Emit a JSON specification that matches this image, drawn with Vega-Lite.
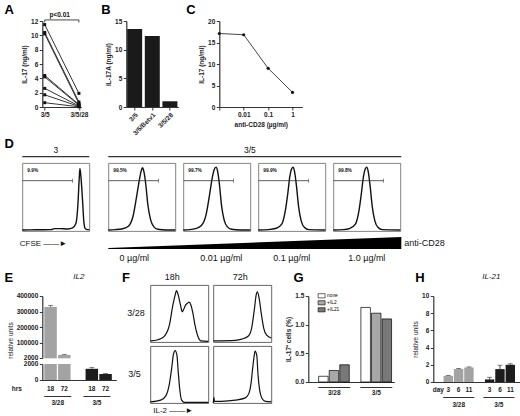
{
  "$schema": "https://vega.github.io/schema/vega-lite/v6.json",
  "padding": {"left": 3.3, "top": 3, "right": 0, "bottom": 0},
  "background": "white",
  "config": {
    "view": {"stroke": null},
    "axis": {
      "labelFont": "Liberation Sans", "labelFontSize": 6.5, "labelFontWeight": "bold", "labelColor": "#222",
      "titleFont": "Liberation Sans", "titleFontSize": 6.5, "titleFontWeight": "bold", "titleColor": "#222",
      "domainColor": "#333", "domainWidth": 1.2, "tickColor": "#333", "tickWidth": 1, "tickSize": 3,
      "labelPadding": 1.5, "titlePadding": 3, "grid": false, "labelFlush": false, "labelOverlap": false
    },
    "text": {"font": "Liberation Sans", "color": "#111"}
  },
  "datasets": {
    "a": [
      {"donor": 1, "cond": "3/5", "il17": 11.5}, {"donor": 1, "cond": "3/5/28", "il17": 1.9},
      {"donor": 2, "cond": "3/5", "il17": 10.4}, {"donor": 2, "cond": "3/5/28", "il17": 0.7},
      {"donor": 3, "cond": "3/5", "il17": 10.2}, {"donor": 3, "cond": "3/5/28", "il17": 0.5},
      {"donor": 4, "cond": "3/5", "il17": 4.4}, {"donor": 4, "cond": "3/5/28", "il17": 0.35},
      {"donor": 5, "cond": "3/5", "il17": 4.2}, {"donor": 5, "cond": "3/5/28", "il17": 0.25},
      {"donor": 6, "cond": "3/5", "il17": 2.6}, {"donor": 6, "cond": "3/5/28", "il17": 0.15},
      {"donor": 7, "cond": "3/5", "il17": 1.7}, {"donor": 7, "cond": "3/5/28", "il17": 0.08},
      {"donor": 8, "cond": "3/5", "il17": 0.6}, {"donor": 8, "cond": "3/5/28", "il17": 0.03}
    ],
    "aBracket": [
      {"cond": "3/5", "y": 11.8, "o": 1}, {"cond": "3/5", "y": 12.15, "o": 2},
      {"cond": "3/5/28", "y": 12.15, "o": 3}, {"cond": "3/5/28", "y": 11.8, "o": 4}
    ],
    "b": [
      {"cond": "3/5", "il17a": 13.6}, {"cond": "3/5/Betv1", "il17a": 12.4}, {"cond": "3/5/28", "il17a": 1.0}
    ],
    "c": [
      {"dose": "0", "il17": 17.1}, {"dose": "0.01", "il17": 16.8}, {"dose": "0.1", "il17": 9.0}, {"dose": "1", "il17": 3.4}
    ],
    "cfse": [
      {"panel": "3", "x": 0, "y": 0.015}, {"panel": "3", "x": 0.2, "y": 0.018}, {"panel": "3", "x": 0.43, "y": 0.02},
      {"panel": "3", "x": 0.48, "y": 0.035}, {"panel": "3", "x": 0.56, "y": 0.035}, {"panel": "3", "x": 0.68, "y": 0.03},
      {"panel": "3", "x": 0.75, "y": 0.045}, {"panel": "3", "x": 0.8, "y": 0.11}, {"panel": "3", "x": 0.83, "y": 0.39},
      {"panel": "3", "x": 0.85, "y": 0.78}, {"panel": "3", "x": 0.86, "y": 0.92}, {"panel": "3", "x": 0.875, "y": 0.8},
      {"panel": "3", "x": 0.9, "y": 0.44}, {"panel": "3", "x": 0.92, "y": 0.12}, {"panel": "3", "x": 0.94, "y": 0.035},
      {"panel": "3", "x": 0.97, "y": 0.02}, {"panel": "3", "x": 1, "y": 0.02},
      {"panel": "0", "x": 0, "y": 0.015}, {"panel": "0", "x": 0.1, "y": 0.02}, {"panel": "0", "x": 0.2, "y": 0.03},
      {"panel": "0", "x": 0.3, "y": 0.07}, {"panel": "0", "x": 0.37, "y": 0.22}, {"panel": "0", "x": 0.42, "y": 0.49},
      {"panel": "0", "x": 0.46, "y": 0.73}, {"panel": "0", "x": 0.49, "y": 0.88}, {"panel": "0", "x": 0.51, "y": 0.93},
      {"panel": "0", "x": 0.53, "y": 0.88}, {"panel": "0", "x": 0.56, "y": 0.68}, {"panel": "0", "x": 0.59, "y": 0.39},
      {"panel": "0", "x": 0.63, "y": 0.17}, {"panel": "0", "x": 0.68, "y": 0.06}, {"panel": "0", "x": 0.74, "y": 0.025},
      {"panel": "0", "x": 0.86, "y": 0.015}, {"panel": "0", "x": 1, "y": 0.015},
      {"panel": "0.01", "x": 0, "y": 0.015}, {"panel": "0.01", "x": 0.1, "y": 0.02}, {"panel": "0.01", "x": 0.18, "y": 0.035},
      {"panel": "0.01", "x": 0.27, "y": 0.08}, {"panel": "0.01", "x": 0.34, "y": 0.24}, {"panel": "0.01", "x": 0.39, "y": 0.52},
      {"panel": "0.01", "x": 0.43, "y": 0.77}, {"panel": "0.01", "x": 0.46, "y": 0.9}, {"panel": "0.01", "x": 0.49, "y": 0.94},
      {"panel": "0.01", "x": 0.51, "y": 0.89}, {"panel": "0.01", "x": 0.54, "y": 0.68}, {"panel": "0.01", "x": 0.57, "y": 0.38},
      {"panel": "0.01", "x": 0.61, "y": 0.16}, {"panel": "0.01", "x": 0.66, "y": 0.06}, {"panel": "0.01", "x": 0.72, "y": 0.025},
      {"panel": "0.01", "x": 0.85, "y": 0.015}, {"panel": "0.01", "x": 1, "y": 0.015},
      {"panel": "0.1", "x": 0, "y": 0.015}, {"panel": "0.1", "x": 0.15, "y": 0.02}, {"panel": "0.1", "x": 0.27, "y": 0.04},
      {"panel": "0.1", "x": 0.35, "y": 0.1}, {"panel": "0.1", "x": 0.4, "y": 0.28}, {"panel": "0.1", "x": 0.44, "y": 0.55},
      {"panel": "0.1", "x": 0.47, "y": 0.8}, {"panel": "0.1", "x": 0.5, "y": 0.92}, {"panel": "0.1", "x": 0.52, "y": 0.94},
      {"panel": "0.1", "x": 0.54, "y": 0.88}, {"panel": "0.1", "x": 0.57, "y": 0.66}, {"panel": "0.1", "x": 0.6, "y": 0.37},
      {"panel": "0.1", "x": 0.64, "y": 0.15}, {"panel": "0.1", "x": 0.69, "y": 0.05}, {"panel": "0.1", "x": 0.75, "y": 0.02},
      {"panel": "0.1", "x": 1, "y": 0.015},
      {"panel": "1.0", "x": 0, "y": 0.015}, {"panel": "1.0", "x": 0.15, "y": 0.02}, {"panel": "1.0", "x": 0.25, "y": 0.04},
      {"panel": "1.0", "x": 0.33, "y": 0.1}, {"panel": "1.0", "x": 0.38, "y": 0.28}, {"panel": "1.0", "x": 0.42, "y": 0.56},
      {"panel": "1.0", "x": 0.45, "y": 0.8}, {"panel": "1.0", "x": 0.48, "y": 0.92}, {"panel": "1.0", "x": 0.5, "y": 0.94},
      {"panel": "1.0", "x": 0.52, "y": 0.88}, {"panel": "1.0", "x": 0.55, "y": 0.66}, {"panel": "1.0", "x": 0.58, "y": 0.37},
      {"panel": "1.0", "x": 0.62, "y": 0.15}, {"panel": "1.0", "x": 0.67, "y": 0.05}, {"panel": "1.0", "x": 0.73, "y": 0.02},
      {"panel": "1.0", "x": 1, "y": 0.015}
    ],
    "gates": [
      {"panel": "3", "pct": "9.9%", "lo": 0.005, "hi": 0.75, "lvl": 0.74},
      {"panel": "0", "pct": "99.5%", "lo": 0.005, "hi": 0.75, "lvl": 0.74},
      {"panel": "0.01", "pct": "99.7%", "lo": 0.005, "hi": 0.75, "lvl": 0.74},
      {"panel": "0.1", "pct": "99.9%", "lo": 0.005, "hi": 0.75, "lvl": 0.74},
      {"panel": "1.0", "pct": "99.8%", "lo": 0.005, "hi": 0.75, "lvl": 0.74}
    ],
    "wedge": [{"x": 0, "y": 0.08}, {"x": 1, "y": 1}],
    "il2": [
      {"panel": "3/28 18h", "x": 0, "y": 0.02}, {"panel": "3/28 18h", "x": 0.13, "y": 0.04}, {"panel": "3/28 18h", "x": 0.24, "y": 0.1},
      {"panel": "3/28 18h", "x": 0.33, "y": 0.3}, {"panel": "3/28 18h", "x": 0.39, "y": 0.65}, {"panel": "3/28 18h", "x": 0.43, "y": 0.83},
      {"panel": "3/28 18h", "x": 0.45, "y": 0.9}, {"panel": "3/28 18h", "x": 0.48, "y": 0.83}, {"panel": "3/28 18h", "x": 0.52, "y": 0.65},
      {"panel": "3/28 18h", "x": 0.55, "y": 0.53}, {"panel": "3/28 18h", "x": 0.57, "y": 0.56}, {"panel": "3/28 18h", "x": 0.61, "y": 0.65},
      {"panel": "3/28 18h", "x": 0.64, "y": 0.68}, {"panel": "3/28 18h", "x": 0.67, "y": 0.7}, {"panel": "3/28 18h", "x": 0.7, "y": 0.65},
      {"panel": "3/28 18h", "x": 0.73, "y": 0.53}, {"panel": "3/28 18h", "x": 0.77, "y": 0.3}, {"panel": "3/28 18h", "x": 0.82, "y": 0.1},
      {"panel": "3/28 18h", "x": 0.87, "y": 0.02}, {"panel": "3/28 18h", "x": 1, "y": 0.01},
      {"panel": "3/28 72h", "x": 0, "y": 0.02}, {"panel": "3/28 72h", "x": 0.38, "y": 0.03}, {"panel": "3/28 72h", "x": 0.49, "y": 0.05},
      {"panel": "3/28 72h", "x": 0.6, "y": 0.1}, {"panel": "3/28 72h", "x": 0.66, "y": 0.24}, {"panel": "3/28 72h", "x": 0.71, "y": 0.59},
      {"panel": "3/28 72h", "x": 0.74, "y": 0.83}, {"panel": "3/28 72h", "x": 0.76, "y": 0.88}, {"panel": "3/28 72h", "x": 0.79, "y": 0.77},
      {"panel": "3/28 72h", "x": 0.83, "y": 0.48}, {"panel": "3/28 72h", "x": 0.87, "y": 0.24}, {"panel": "3/28 72h", "x": 0.92, "y": 0.12},
      {"panel": "3/28 72h", "x": 1, "y": 0.07},
      {"panel": "3/5 18h", "x": 0, "y": 0.02}, {"panel": "3/5 18h", "x": 0.18, "y": 0.05}, {"panel": "3/5 18h", "x": 0.27, "y": 0.13},
      {"panel": "3/5 18h", "x": 0.33, "y": 0.34}, {"panel": "3/5 18h", "x": 0.37, "y": 0.62}, {"panel": "3/5 18h", "x": 0.4, "y": 0.86},
      {"panel": "3/5 18h", "x": 0.43, "y": 0.92}, {"panel": "3/5 18h", "x": 0.46, "y": 0.83}, {"panel": "3/5 18h", "x": 0.48, "y": 0.57},
      {"panel": "3/5 18h", "x": 0.51, "y": 0.22}, {"panel": "3/5 18h", "x": 0.54, "y": 0.05}, {"panel": "3/5 18h", "x": 0.59, "y": 0.01},
      {"panel": "3/5 18h", "x": 1, "y": 0.01},
      {"panel": "3/5 72h", "x": 0, "y": 0.0}, {"panel": "3/5 72h", "x": 0.01, "y": 0.1}, {"panel": "3/5 72h", "x": 0.02, "y": 0.03},
      {"panel": "3/5 72h", "x": 0.14, "y": 0.03}, {"panel": "3/5 72h", "x": 0.38, "y": 0.05}, {"panel": "3/5 72h", "x": 0.55, "y": 0.09},
      {"panel": "3/5 72h", "x": 0.61, "y": 0.16}, {"panel": "3/5 72h", "x": 0.65, "y": 0.34}, {"panel": "3/5 72h", "x": 0.68, "y": 0.62},
      {"panel": "3/5 72h", "x": 0.71, "y": 0.86}, {"panel": "3/5 72h", "x": 0.72, "y": 0.91}, {"panel": "3/5 72h", "x": 0.75, "y": 0.83},
      {"panel": "3/5 72h", "x": 0.77, "y": 0.51}, {"panel": "3/5 72h", "x": 0.8, "y": 0.22}, {"panel": "3/5 72h", "x": 0.84, "y": 0.08},
      {"panel": "3/5 72h", "x": 0.9, "y": 0.03}, {"panel": "3/5 72h", "x": 1, "y": 0.02}
    ],
    "e": [
      {"bar": "3/28 18", "grp": "3/28", "hrs": "18", "val": 330000, "hi": 340000},
      {"bar": "3/28 72", "grp": "3/28", "hrs": "72", "val": 22000, "hi": 25000},
      {"bar": "3/5 18", "grp": "3/5", "hrs": "18", "val": 1400, "hi": 1580},
      {"bar": "3/5 72", "grp": "3/5", "hrs": "72", "val": 750, "hi": 820}
    ],
    "g": [
      {"bar": "3/28 none", "grp": "3/28", "trt": "none", "pct": 0.1}, {"bar": "3/28 +IL2", "grp": "3/28", "trt": "+IL2", "pct": 0.2},
      {"bar": "3/28 +IL21", "grp": "3/28", "trt": "+IL21", "pct": 0.3}, {"bar": "3/5 none", "grp": "3/5", "trt": "none", "pct": 1.3},
      {"bar": "3/5 +IL2", "grp": "3/5", "trt": "+IL2", "pct": 1.2}, {"bar": "3/5 +IL21", "grp": "3/5", "trt": "+IL21", "pct": 1.1}
    ],
    "h": [
      {"bar": "3/28 3", "grp": "3/28", "day": "3", "val": 0.7, "hi": 0.75}, {"bar": "3/28 6", "grp": "3/28", "day": "6", "val": 1.5, "hi": 1.56},
      {"bar": "3/28 11", "grp": "3/28", "day": "11", "val": 1.7, "hi": 1.75}, {"bar": "3/5 3", "grp": "3/5", "day": "3", "val": 0.3, "hi": 0.55},
      {"bar": "3/5 6", "grp": "3/5", "day": "6", "val": 1.5, "hi": 1.95}, {"bar": "3/5 11", "grp": "3/5", "day": "11", "val": 2.0, "hi": 2.12}
    ],
    "groups": [{"grp": "3/28"}, {"grp": "3/5"}]
  },
  "vconcat": [
    {
      "hconcat": [
        {"width": 20, "height": 1, "data": {"values": [{}]}, "mark": {"type": "text", "text": ""}},
        {
          "width": 39, "height": 86,
          "layer": [
            {"data": {"name": "a"}, "mark": {"type": "line", "color": "#333", "strokeWidth": 1},
             "encoding": {
               "x": {"field": "cond", "type": "nominal", "scale": {"type": "point", "domain": ["3/5", "3/5/28"], "padding": 0.07}, "axis": {"title": null, "labelAngle": 0}},
               "y": {"field": "il17", "type": "quantitative", "scale": {"domain": [0, 12], "nice": false}, "axis": {"values": [0, 2, 4, 6, 8, 10, 12], "tickCount": 10, "title": "IL-17 (ng/ml)"}},
               "detail": {"field": "donor", "type": "nominal"}}},
            {"data": {"name": "a"}, "mark": {"type": "point", "shape": "square", "filled": true, "size": 9, "color": "#111", "opacity": 1},
             "encoding": {"x": {"field": "cond", "type": "nominal"}, "y": {"field": "il17", "type": "quantitative"}}},
            {"data": {"name": "aBracket"}, "mark": {"type": "line", "color": "#333", "strokeWidth": 0.9},
             "encoding": {"x": {"field": "cond", "type": "nominal"}, "y": {"field": "y", "type": "quantitative"}, "order": {"field": "o", "type": "quantitative"}}},
            {"data": {"values": [{}]}, "mark": {"type": "text", "text": "p<0.01", "fontSize": 6.5, "fontWeight": "bold", "baseline": "middle", "dx": 15},
             "encoding": {"x": {"datum": "3/5", "type": "nominal"}, "y": {"datum": 12.85, "type": "quantitative"}}},
            {"data": {"values": [{}]}, "mark": {"type": "text", "text": "A", "fontSize": 13, "fontWeight": "bold", "align": "left", "baseline": "middle", "color": "#000", "dx": -57.2, "dy": -54.5}}
          ]
        },
        {"width": 45, "height": 1, "data": {"values": [{}]}, "mark": {"type": "text", "text": ""}},
        {
          "width": 52, "height": 86,
          "layer": [
            {"data": {"name": "b"}, "mark": {"type": "bar", "color": "#1a1a1a"},
             "encoding": {
               "x": {"field": "cond", "type": "nominal", "sort": null, "scale": {"paddingInner": 0.15, "paddingOuter": 0.05}, "axis": {"title": null, "labelAngle": -45}},
               "y": {"field": "il17a", "type": "quantitative", "scale": {"domain": [0, 15], "nice": false}, "axis": {"values": [0, 5, 10, 15], "tickCount": 10, "title": "IL-17A (ng/ml)"}}}},
            {"data": {"values": [{}]}, "mark": {"type": "text", "text": "B", "fontSize": 13, "fontWeight": "bold", "align": "left", "baseline": "middle", "color": "#000", "dx": -51, "dy": -54.5}}
          ]
        },
        {"width": 41, "height": 1, "data": {"values": [{}]}, "mark": {"type": "text", "text": ""}},
        {
          "width": 83, "height": 86,
          "layer": [
            {"data": {"name": "c"}, "mark": {"type": "line", "color": "#444", "strokeWidth": 1},
             "encoding": {
               "x": {"field": "dose", "type": "nominal", "sort": null, "scale": {"type": "point", "domain": ["0", "0.01", "0.1", "1"], "padding": 0.2, "align": 0},
                     "axis": {"title": "anti-CD28 (µg/ml)", "labelAngle": 0, "labelExpr": "datum.value == '0' ? '' : datum.label"}},
               "y": {"field": "il17", "type": "quantitative", "scale": {"domain": [0, 20], "nice": false}, "axis": {"values": [0, 5, 10, 15, 20], "tickCount": 10, "title": "IL-17 (ng/ml)"}}}},
            {"data": {"name": "c"}, "mark": {"type": "point", "filled": true, "size": 10, "color": "#111", "opacity": 1},
             "encoding": {"x": {"field": "dose", "type": "nominal", "sort": null}, "y": {"field": "il17", "type": "quantitative"}}},
            {"data": {"values": [{}]}, "mark": {"type": "text", "text": "C", "fontSize": 13, "fontWeight": "bold", "align": "left", "baseline": "middle", "color": "#000", "dx": -74.5, "dy": -54.5}}
          ]
        }
      ],
      "spacing": 0, "bounds": "flush"
    },
    {"width": 1, "height": 134.3, "data": {"values": [{}]}, "mark": {"type": "text", "text": ""}},
    {
      "hconcat": [
        {"width": 67, "height": 1.2,
         "layer": [
           {"data": {"values": [{}]}, "mark": {"type": "rect", "color": "#333"},
            "encoding": {"x": {"datum": 0, "type": "quantitative", "scale": {"domain": [0, 1]}, "axis": null}, "x2": {"datum": 1},
                         "y": {"datum": 0, "type": "quantitative", "scale": {"domain": [0, 1]}, "axis": null}, "y2": {"datum": 1}}},
           {"data": {"values": [{}]}, "mark": {"type": "text", "text": "3", "fontSize": 8.5, "baseline": "middle", "dy": -7}}
         ]},
        {"width": 19, "height": 1, "data": {"values": [{}]}, "mark": {"type": "text", "text": ""}},
        {"width": 293, "height": 1.2,
         "layer": [
           {"data": {"values": [{}]}, "mark": {"type": "rect", "color": "#333"},
            "encoding": {"x": {"datum": 0, "type": "quantitative", "scale": {"domain": [0, 1]}, "axis": null}, "x2": {"datum": 1},
                         "y": {"datum": 0, "type": "quantitative", "scale": {"domain": [0, 1]}, "axis": null}, "y2": {"datum": 1}}},
           {"data": {"values": [{}]}, "mark": {"type": "text", "text": "3/5", "fontSize": 8.5, "baseline": "middle", "dx": -5, "dy": -7}}
         ]}
      ],
      "spacing": 0, "bounds": "flush"
    },
    {"width": 1, "height": 6.7, "data": {"values": [{}]}, "mark": {"type": "text", "text": ""}},
    {
      "hconcat": [
        {"width": 67, "height": 68, "view": {"stroke": "#777", "strokeWidth": 0.9},
         "layer": [
           {"data": {"name": "cfse"}, "transform": [{"filter": "datum.panel == '3'"}], "mark": {"type": "line", "color": "#111", "strokeWidth": 1.4, "interpolate": "monotone"},
            "encoding": {"x": {"field": "x", "type": "quantitative", "scale": {"domain": [0, 1], "nice": false}, "axis": null},
                         "y": {"field": "y", "type": "quantitative", "scale": {"domain": [0, 1], "nice": false}, "axis": null}}},
           {"data": {"name": "gates"}, "transform": [{"filter": "datum.panel == '3'"}], "mark": {"type": "rule", "color": "#333", "strokeWidth": 0.8},
            "encoding": {"x": {"field": "lo", "type": "quantitative"}, "x2": {"field": "hi"}, "y": {"field": "lvl", "type": "quantitative"}}},
           {"data": {"name": "gates"}, "transform": [{"filter": "datum.panel == '3'"}], "mark": {"type": "tick", "orient": "vertical", "size": 4, "thickness": 0.8, "color": "#333"},
            "encoding": {"x": {"field": "hi", "type": "quantitative"}, "y": {"field": "lvl", "type": "quantitative"}}},
           {"data": {"name": "gates"}, "transform": [{"filter": "datum.panel == '3'"}], "mark": {"type": "text", "align": "left", "baseline": "middle", "fontSize": 4.8, "fontWeight": "bold", "dx": 5},
            "encoding": {"x": {"datum": 0, "type": "quantitative"}, "y": {"datum": 0.88, "type": "quantitative"}, "text": {"field": "pct"}}},
           {"data": {"values": [{}]}, "mark": {"type": "text", "text": "D", "fontSize": 13, "fontWeight": "bold", "align": "left", "baseline": "middle", "color": "#000", "dx": -51.2, "dy": -52.7}}
         ]},
        {"width": 19, "height": 1, "data": {"values": [{}]}, "mark": {"type": "text", "text": ""}},
        {"width": 67, "height": 68, "view": {"stroke": "#777", "strokeWidth": 0.9},
         "layer": [
           {"data": {"name": "cfse"}, "transform": [{"filter": "datum.panel == '0'"}], "mark": {"type": "line", "color": "#111", "strokeWidth": 1.4, "interpolate": "monotone"},
            "encoding": {"x": {"field": "x", "type": "quantitative", "scale": {"domain": [0, 1], "nice": false}, "axis": null},
                         "y": {"field": "y", "type": "quantitative", "scale": {"domain": [0, 1], "nice": false}, "axis": null}}},
           {"data": {"name": "gates"}, "transform": [{"filter": "datum.panel == '0'"}], "mark": {"type": "rule", "color": "#333", "strokeWidth": 0.8},
            "encoding": {"x": {"field": "lo", "type": "quantitative"}, "x2": {"field": "hi"}, "y": {"field": "lvl", "type": "quantitative"}}},
           {"data": {"name": "gates"}, "transform": [{"filter": "datum.panel == '0'"}], "mark": {"type": "tick", "orient": "vertical", "size": 4, "thickness": 0.8, "color": "#333"},
            "encoding": {"x": {"field": "hi", "type": "quantitative"}, "y": {"field": "lvl", "type": "quantitative"}}},
           {"data": {"name": "gates"}, "transform": [{"filter": "datum.panel == '0'"}], "mark": {"type": "text", "align": "left", "baseline": "middle", "fontSize": 4.8, "fontWeight": "bold", "dx": 5},
            "encoding": {"x": {"datum": 0, "type": "quantitative"}, "y": {"datum": 0.88, "type": "quantitative"}, "text": {"field": "pct"}}},
           {"data": {"values": [{}]}, "mark": {"type": "text", "text": "0 µg/ml", "fontSize": 9, "baseline": "middle", "dx": -7.5, "dy": 61}}
         ]},
        {"width": 8, "height": 1, "data": {"values": [{}]}, "mark": {"type": "text", "text": ""}},
        {"width": 67, "height": 68, "view": {"stroke": "#777", "strokeWidth": 0.9},
         "layer": [
           {"data": {"name": "cfse"}, "transform": [{"filter": "datum.panel == '0.01'"}], "mark": {"type": "line", "color": "#111", "strokeWidth": 1.4, "interpolate": "monotone"},
            "encoding": {"x": {"field": "x", "type": "quantitative", "scale": {"domain": [0, 1], "nice": false}, "axis": null},
                         "y": {"field": "y", "type": "quantitative", "scale": {"domain": [0, 1], "nice": false}, "axis": null}}},
           {"data": {"name": "gates"}, "transform": [{"filter": "datum.panel == '0.01'"}], "mark": {"type": "rule", "color": "#333", "strokeWidth": 0.8},
            "encoding": {"x": {"field": "lo", "type": "quantitative"}, "x2": {"field": "hi"}, "y": {"field": "lvl", "type": "quantitative"}}},
           {"data": {"name": "gates"}, "transform": [{"filter": "datum.panel == '0.01'"}], "mark": {"type": "tick", "orient": "vertical", "size": 4, "thickness": 0.8, "color": "#333"},
            "encoding": {"x": {"field": "hi", "type": "quantitative"}, "y": {"field": "lvl", "type": "quantitative"}}},
           {"data": {"name": "gates"}, "transform": [{"filter": "datum.panel == '0.01'"}], "mark": {"type": "text", "align": "left", "baseline": "middle", "fontSize": 4.8, "fontWeight": "bold", "dx": 5},
            "encoding": {"x": {"datum": 0, "type": "quantitative"}, "y": {"datum": 0.88, "type": "quantitative"}, "text": {"field": "pct"}}},
           {"data": {"values": [{}]}, "mark": {"type": "text", "text": "0.01 µg/ml", "fontSize": 9, "baseline": "middle", "dx": 4.5, "dy": 61}}
         ]},
        {"width": 8, "height": 1, "data": {"values": [{}]}, "mark": {"type": "text", "text": ""}},
        {"width": 67, "height": 68, "view": {"stroke": "#777", "strokeWidth": 0.9},
         "layer": [
           {"data": {"name": "cfse"}, "transform": [{"filter": "datum.panel == '0.1'"}], "mark": {"type": "line", "color": "#111", "strokeWidth": 1.4, "interpolate": "monotone"},
            "encoding": {"x": {"field": "x", "type": "quantitative", "scale": {"domain": [0, 1], "nice": false}, "axis": null},
                         "y": {"field": "y", "type": "quantitative", "scale": {"domain": [0, 1], "nice": false}, "axis": null}}},
           {"data": {"name": "gates"}, "transform": [{"filter": "datum.panel == '0.1'"}], "mark": {"type": "rule", "color": "#333", "strokeWidth": 0.8},
            "encoding": {"x": {"field": "lo", "type": "quantitative"}, "x2": {"field": "hi"}, "y": {"field": "lvl", "type": "quantitative"}}},
           {"data": {"name": "gates"}, "transform": [{"filter": "datum.panel == '0.1'"}], "mark": {"type": "tick", "orient": "vertical", "size": 4, "thickness": 0.8, "color": "#333"},
            "encoding": {"x": {"field": "hi", "type": "quantitative"}, "y": {"field": "lvl", "type": "quantitative"}}},
           {"data": {"name": "gates"}, "transform": [{"filter": "datum.panel == '0.1'"}], "mark": {"type": "text", "align": "left", "baseline": "middle", "fontSize": 4.8, "fontWeight": "bold", "dx": 5},
            "encoding": {"x": {"datum": 0, "type": "quantitative"}, "y": {"datum": 0.88, "type": "quantitative"}, "text": {"field": "pct"}}},
           {"data": {"values": [{}]}, "mark": {"type": "text", "text": "0.1 µg/ml", "fontSize": 9, "baseline": "middle", "dx": 0, "dy": 61}}
         ]},
        {"width": 8, "height": 1, "data": {"values": [{}]}, "mark": {"type": "text", "text": ""}},
        {"width": 67, "height": 68, "view": {"stroke": "#777", "strokeWidth": 0.9},
         "layer": [
           {"data": {"name": "cfse"}, "transform": [{"filter": "datum.panel == '1.0'"}], "mark": {"type": "line", "color": "#111", "strokeWidth": 1.4, "interpolate": "monotone"},
            "encoding": {"x": {"field": "x", "type": "quantitative", "scale": {"domain": [0, 1], "nice": false}, "axis": null},
                         "y": {"field": "y", "type": "quantitative", "scale": {"domain": [0, 1], "nice": false}, "axis": null}}},
           {"data": {"name": "gates"}, "transform": [{"filter": "datum.panel == '1.0'"}], "mark": {"type": "rule", "color": "#333", "strokeWidth": 0.8},
            "encoding": {"x": {"field": "lo", "type": "quantitative"}, "x2": {"field": "hi"}, "y": {"field": "lvl", "type": "quantitative"}}},
           {"data": {"name": "gates"}, "transform": [{"filter": "datum.panel == '1.0'"}], "mark": {"type": "tick", "orient": "vertical", "size": 4, "thickness": 0.8, "color": "#333"},
            "encoding": {"x": {"field": "hi", "type": "quantitative"}, "y": {"field": "lvl", "type": "quantitative"}}},
           {"data": {"name": "gates"}, "transform": [{"filter": "datum.panel == '1.0'"}], "mark": {"type": "text", "align": "left", "baseline": "middle", "fontSize": 4.8, "fontWeight": "bold", "dx": 5},
            "encoding": {"x": {"datum": 0, "type": "quantitative"}, "y": {"datum": 0.88, "type": "quantitative"}, "text": {"field": "pct"}}},
           {"data": {"values": [{}]}, "mark": {"type": "text", "text": "1.0 µg/ml", "fontSize": 9, "baseline": "middle", "dx": 0, "dy": 61}}
         ]}
      ],
      "spacing": 0, "bounds": "flush"
    },
    {"width": 1, "height": 73.5, "data": {"values": [{}]}, "mark": {"type": "text", "text": ""}},
    {
      "hconcat": [
        {"width": 67, "height": 12, "data": {"values": [{}]}, "mark": {"type": "text", "text": "CFSE ——►", "fontSize": 8, "align": "left", "baseline": "middle", "dx": -36, "dy": 1.5}},
        {"width": 19, "height": 1, "data": {"values": [{}]}, "mark": {"type": "text", "text": ""}},
        {"width": 293, "height": 12,
         "layer": [
           {"data": {"name": "wedge"}, "mark": {"type": "area", "color": "#000"},
            "encoding": {"x": {"field": "x", "type": "quantitative", "scale": {"domain": [0, 1], "nice": false}, "axis": null},
                         "y": {"field": "y", "type": "quantitative", "scale": {"domain": [0, 1], "nice": false}, "axis": null}}},
           {"data": {"values": [{}]}, "mark": {"type": "text", "text": "anti-CD28", "fontSize": 9, "align": "left", "baseline": "middle", "dx": 3},
            "encoding": {"x": {"datum": 1, "type": "quantitative"}, "y": {"datum": 0.5, "type": "quantitative"}}}
         ]}
      ],
      "spacing": 0, "bounds": "flush"
    },
    {"width": 1, "height": 47.5, "data": {"values": [{}]}, "mark": {"type": "text", "text": ""}},
    {
      "hconcat": [
        {"width": 20, "height": 1, "data": {"values": [{}]}, "mark": {"type": "text", "text": ""}},
        {
          "vconcat": [
            {"width": 74, "height": 1,
             "layer": [
               {"data": {"values": [{}]}, "mark": {"type": "text", "text": "E", "fontSize": 13, "fontWeight": "bold", "align": "left", "baseline": "middle", "color": "#000", "dx": -74.7, "dy": -7.5}},
               {"data": {"values": [{}]}, "mark": {"type": "text", "text": "IL2", "fontSize": 8, "fontStyle": "italic", "baseline": "middle", "dx": -0.5, "dy": -8}}
             ]},
            {"width": 74, "height": 10, "data": {"values": [{}]}, "mark": {"type": "text", "text": ""}},
            {"width": 74, "height": 62, "data": {"name": "e"}, "transform": [{"filter": "datum.val > 2000"}],
             "encoding": {
               "x": {"field": "bar", "type": "nominal", "scale": {"domain": ["3/28 18", "3/28 72", "gap", "3/5 18", "3/5 72"], "paddingInner": 0.09, "paddingOuter": 0.236, "align": 0.31}, "axis": null}},
             "layer": [
               {"mark": {"type": "bar"},
                "encoding": {
                  "y": {"field": "val", "type": "quantitative", "scale": {"domain": [2000, 400000], "nice": false, "zero": false},
                        "axis": {"values": [2000, 100000, 200000, 300000, 400000], "tickCount": 10, "format": "d", "title": "relative units", "titleFontWeight": "normal", "titleY": 44}},
                  "color": {"field": "grp", "type": "nominal", "scale": {"domain": ["3/28", "3/5"], "range": ["#a3a3a3", "#1c1c1c"]}, "legend": null}}},
               {"mark": {"type": "rule", "color": "#333", "strokeWidth": 0.8}, "encoding": {"y": {"field": "val", "type": "quantitative"}, "y2": {"field": "hi"}}},
               {"mark": {"type": "tick", "orient": "horizontal", "size": 5, "thickness": 0.8, "color": "#333"}, "encoding": {"y": {"field": "hi", "type": "quantitative"}}}
             ]},
            {"width": 74, "height": 6, "data": {"values": [{}]}, "mark": {"type": "text", "text": ""}},
            {"width": 74, "height": 16, "data": {"name": "e"},
             "encoding": {
               "x": {"field": "bar", "type": "nominal", "scale": {"domain": ["3/28 18", "3/28 72", "gap", "3/5 18", "3/5 72"], "paddingInner": 0.09, "paddingOuter": 0.236, "align": 0.31},
                     "axis": {"ticks": false, "labelAngle": 0, "labelPadding": 5.5, "labelExpr": "datum.value == 'gap' ? '' : split(datum.value, ' ')[1]",
                              "title": "hrs", "titleX": -26, "titleY": 9, "titleAngle": 0, "titleAlign": "center", "titleBaseline": "middle"}}},
             "layer": [
               {"mark": {"type": "bar"},
                "encoding": {
                  "y": {"field": "val", "type": "quantitative", "scale": {"domain": [0, 2000], "nice": false, "clamp": true}, "axis": {"values": [0, 2000], "tickCount": 10, "format": "d", "title": null}},
                  "color": {"field": "grp", "type": "nominal", "scale": {"domain": ["3/28", "3/5"], "range": ["#a3a3a3", "#1c1c1c"]}, "legend": null}}},
               {"transform": [{"filter": "datum.grp == '3/5'"}], "mark": {"type": "rule", "color": "#333", "strokeWidth": 0.8}, "encoding": {"y": {"field": "val", "type": "quantitative"}, "y2": {"field": "hi"}}},
               {"transform": [{"filter": "datum.grp == '3/5'"}], "mark": {"type": "tick", "orient": "horizontal", "size": 5, "thickness": 0.8, "color": "#333"}, "encoding": {"y": {"field": "hi", "type": "quantitative"}}}
             ]},
            {"width": 74, "height": 16, "data": {"values": [{}]}, "mark": {"type": "text", "text": ""}},
            {"width": 74, "height": 1, "data": {"name": "groups"}, "mark": {"type": "rect", "color": "#333"},
             "encoding": {
               "x": {"field": "grp", "type": "nominal", "scale": {"domain": ["3/28", "3/5"], "paddingInner": 0.31, "paddingOuter": 0.1, "align": 0.25},
                     "axis": {"domain": false, "ticks": false, "title": null, "labelAngle": 0, "labelPadding": 2.5}},
               "y": {"datum": 0, "type": "quantitative", "scale": {"domain": [0, 1]}, "axis": null}, "y2": {"datum": 1}}}
          ],
          "spacing": 0, "bounds": "flush"
        },
        {"width": 108, "height": 1, "data": {"values": [{}]}, "mark": {"type": "text", "text": ""}},
        {
          "concat": [
            {"width": 58, "height": 57, "view": {"stroke": "#555", "strokeWidth": 0.9},
             "layer": [
               {"data": {"name": "il2"}, "transform": [{"filter": "datum.panel == '3/28 18h'"}], "mark": {"type": "line", "color": "#111", "strokeWidth": 1.2, "interpolate": "monotone"},
                "encoding": {"x": {"field": "x", "type": "quantitative", "scale": {"domain": [0, 1], "nice": false}, "axis": null},
                             "y": {"field": "y", "type": "quantitative", "scale": {"domain": [0, 1], "nice": false}, "axis": null}}},
               {"data": {"values": [{}]}, "mark": {"type": "text", "text": "F", "fontSize": 13, "fontWeight": "bold", "align": "left", "baseline": "middle", "color": "#000", "dx": -57.3, "dy": -35.5}},
               {"data": {"values": [{}]}, "mark": {"type": "text", "text": "18h", "fontSize": 9, "baseline": "middle", "dx": -7, "dy": -36.5}},
               {"data": {"values": [{}]}, "mark": {"type": "text", "text": "3/28", "fontSize": 9, "align": "left", "baseline": "middle", "dx": -52}}
             ]},
            {"width": 58, "height": 57, "view": {"stroke": "#555", "strokeWidth": 0.9},
             "layer": [
               {"data": {"name": "il2"}, "transform": [{"filter": "datum.panel == '3/28 72h'"}], "mark": {"type": "line", "color": "#111", "strokeWidth": 1.2, "interpolate": "monotone"},
                "encoding": {"x": {"field": "x", "type": "quantitative", "scale": {"domain": [0, 1], "nice": false}, "axis": null},
                             "y": {"field": "y", "type": "quantitative", "scale": {"domain": [0, 1], "nice": false}, "axis": null}}},
               {"data": {"values": [{}]}, "mark": {"type": "text", "text": "72h", "fontSize": 9, "baseline": "middle", "dx": -2, "dy": -36.5}}
             ]},
            {"width": 58, "height": 57, "view": {"stroke": "#555", "strokeWidth": 0.9},
             "layer": [
               {"data": {"name": "il2"}, "transform": [{"filter": "datum.panel == '3/5 18h'"}], "mark": {"type": "line", "color": "#111", "strokeWidth": 1.2, "interpolate": "monotone"},
                "encoding": {"x": {"field": "x", "type": "quantitative", "scale": {"domain": [0, 1], "nice": false}, "axis": null},
                             "y": {"field": "y", "type": "quantitative", "scale": {"domain": [0, 1], "nice": false}, "axis": null}}},
               {"data": {"values": [{}]}, "mark": {"type": "text", "text": "3/5", "fontSize": 9, "align": "left", "baseline": "middle", "dx": -51}},
               {"data": {"values": [{}]}, "mark": {"type": "text", "text": "IL-2 ——►", "fontSize": 8, "align": "left", "baseline": "middle", "dx": -26, "dy": 36.5}}
             ]},
            {"width": 58, "height": 57, "view": {"stroke": "#555", "strokeWidth": 0.9},
             "layer": [
               {"data": {"name": "il2"}, "transform": [{"filter": "datum.panel == '3/5 72h'"}], "mark": {"type": "line", "color": "#111", "strokeWidth": 1.2, "interpolate": "monotone"},
                "encoding": {"x": {"field": "x", "type": "quantitative", "scale": {"domain": [0, 1], "nice": false}, "axis": null},
                             "y": {"field": "y", "type": "quantitative", "scale": {"domain": [0, 1], "nice": false}, "axis": null}}}
             ]}
          ],
          "columns": 2, "spacing": {"row": 4, "column": 5}, "bounds": "flush"
        },
        {"width": 158, "height": 1, "data": {"values": [{}]}, "mark": {"type": "text", "text": ""}},
        {
          "vconcat": [
            {"width": 86, "height": 1, "data": {"values": [{}]},
             "mark": {"type": "text", "text": "G", "fontSize": 13, "fontWeight": "bold", "align": "left", "baseline": "middle", "color": "#000", "dx": -57.7, "dy": -7.5}},
            {"width": 86, "height": 9.3, "data": {"values": [{}]}, "mark": {"type": "text", "text": ""}},
            {"width": 86, "height": 86, "data": {"name": "g"}, "mark": {"type": "bar", "stroke": "#000", "strokeWidth": 0.7},
             "encoding": {
               "x": {"field": "bar", "type": "nominal",
                     "scale": {"domain": ["3/28 none", "3/28 +IL2", "3/28 +IL21", "gap", "3/5 none", "3/5 +IL2", "3/5 +IL21"], "paddingInner": 0.1, "paddingOuter": 0.618, "align": 0.79},
                     "axis": {"labels": false, "ticks": false, "title": null}},
               "y": {"field": "pct", "type": "quantitative", "scale": {"domain": [0, 1.5], "nice": false}, "axis": {"values": [0, 0.5, 1, 1.5], "tickCount": 10, "format": ".1f", "title": "IL-17⁺ cells (%)"}},
               "fill": {"field": "trt", "type": "nominal", "scale": {"domain": ["none", "+IL2", "+IL21"], "range": ["#ffffff", "#a8a8a8", "#787878"]},
                        "legend": {"orient": "none", "legendX": 296.8, "legendY": 272.3, "title": null, "symbolType": "M-1.75,-1.05H1.75V1.05H-1.75Z", "symbolSize": 16,
                                   "symbolStrokeColor": "#000", "symbolStrokeWidth": 0.6, "labelFontSize": 4.8, "labelFont": "Liberation Sans", "rowPadding": 0, "labelOffset": 3, "padding": 0}}}},
            {"width": 86, "height": 5, "data": {"values": [{}]}, "mark": {"type": "text", "text": ""}},
            {"width": 86, "height": 1, "data": {"name": "groups"}, "mark": {"type": "rect", "color": "#333"},
             "encoding": {
               "x": {"field": "grp", "type": "nominal", "scale": {"domain": ["3/28", "3/5"], "paddingInner": 0.24, "paddingOuter": 0.143, "align": 0.83},
                     "axis": {"domain": false, "ticks": false, "title": null, "labelAngle": 0, "labelPadding": 2}},
               "y": {"datum": 0, "type": "quantitative", "scale": {"domain": [0, 1]}, "axis": null}, "y2": {"datum": 1}}}
          ],
          "spacing": 0, "bounds": "flush"
        },
        {"width": 125, "height": 1, "data": {"values": [{}]}, "mark": {"type": "text", "text": ""}},
        {
          "vconcat": [
            {"width": 88, "height": 1,
             "layer": [
               {"data": {"values": [{}]}, "mark": {"type": "text", "text": "H", "fontSize": 13, "fontWeight": "bold", "align": "left", "baseline": "middle", "color": "#000", "dx": -62, "dy": -7.5}},
               {"data": {"values": [{}]}, "mark": {"type": "text", "text": "IL-21", "fontSize": 8, "fontStyle": "italic", "baseline": "middle", "dx": 14, "dy": -8}}
             ]},
            {"width": 88, "height": 9.3, "data": {"values": [{}]}, "mark": {"type": "text", "text": ""}},
            {"width": 88, "height": 86, "data": {"name": "h"},
             "encoding": {
               "x": {"field": "bar", "type": "nominal",
                     "scale": {"domain": ["3/28 3", "3/28 6", "3/28 11", "gap", "3/5 3", "3/5 6", "3/5 11"], "paddingInner": 0.09, "paddingOuter": 0.8, "align": 0.62},
                     "axis": {"ticks": false, "labelAngle": 0, "labelPadding": 4.7, "labelExpr": "datum.value == 'gap' ? '' : split(datum.value, ' ')[1]",
                              "title": "day", "titleX": 4.5, "titleY": 8, "titleAngle": 0, "titleAlign": "center", "titleBaseline": "middle"}}},
             "layer": [
               {"mark": {"type": "bar"},
                "encoding": {
                  "y": {"field": "val", "type": "quantitative", "scale": {"domain": [0, 10], "nice": false}, "axis": {"values": [0, 2, 4, 6, 8, 10], "tickCount": 10, "title": "relative units", "titleFontWeight": "normal"}},
                  "color": {"field": "grp", "type": "nominal", "scale": {"domain": ["3/28", "3/5"], "range": ["#a3a3a3", "#1c1c1c"]}, "legend": null}}},
               {"mark": {"type": "rule", "color": "#222", "strokeWidth": 0.8}, "encoding": {"y": {"field": "val", "type": "quantitative"}, "y2": {"field": "hi"}}},
               {"mark": {"type": "tick", "orient": "horizontal", "size": 5, "thickness": 0.8, "color": "#222"}, "encoding": {"y": {"field": "hi", "type": "quantitative"}}}
             ]},
            {"width": 88, "height": 14.7, "data": {"values": [{}]}, "mark": {"type": "text", "text": ""}},
            {"width": 88, "height": 1, "data": {"name": "groups"}, "mark": {"type": "rect", "color": "#333"},
             "encoding": {
               "x": {"field": "grp", "type": "nominal", "scale": {"domain": ["3/28", "3/5"], "paddingInner": 0.225, "paddingOuter": 0.21, "align": 0.59},
                     "axis": {"domain": false, "ticks": false, "title": null, "labelAngle": 0, "labelPadding": 3.5}},
               "y": {"datum": 0, "type": "quantitative", "scale": {"domain": [0, 1]}, "axis": null}, "y2": {"datum": 1}}}
          ],
          "spacing": 0, "bounds": "flush"
        }
      ],
      "spacing": 0, "bounds": "flush"
    }
  ],
  "spacing": 0,
  "bounds": "flush"
}
